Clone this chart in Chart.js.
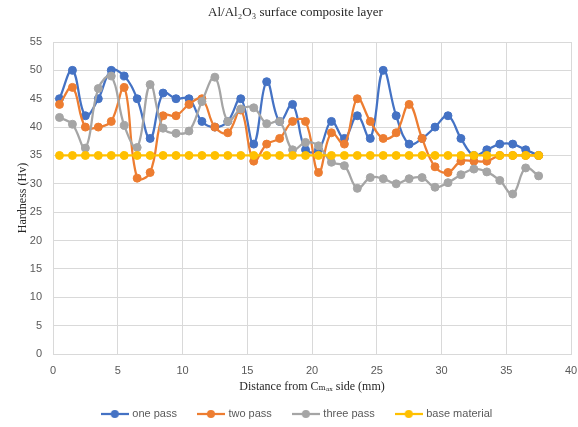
<!DOCTYPE html>
<html>
<head>
<meta charset="utf-8">
<script src="https://cdn.jsdelivr.net/npm/chart.js@4.4.1/dist/chart.umd.min.js"></script>
<style>
html,body{margin:0;padding:0;background:#ffffff;}
#wrap{width:578px;height:427px;position:relative;}
</style>
</head>
<body>
<div id="wrap"><canvas id="chart" width="578" height="427"></canvas></div>
<script>
// Distance from Cmax side (mm)
const distances = [0.5,1.5,2.5,3.5,4.5,5.5,6.5,7.5,8.5,9.5,10.5,11.5,12.5,13.5,14.5,15.5,16.5,17.5,18.5,19.5,20.5,21.5,22.5,23.5,24.5,25.5,26.5,27.5,28.5,29.5,30.5,31.5,32.5,33.5,34.5,35.5,36.5,37.5];
// Hardness (Hv)
const onePass = [45,50,42,45,50,49,45,38,46,45,45,41,40,41,45,37,48,41,44,36,36,41,38,42,38,50,42,37,38,40,42,38,35,36,37,37,36,35];
const twoPass = [44,47,40,40,41,47,31,32,42,42,44,45,40,39,43,34,37,38,41,41,32,39,37,45,41,38,39,44,38,33,32,34,34,34,35,35,35,35];
const threePass = [41.7,40.5,36.3,46.8,49,40.3,36.4,47.5,39.8,38.9,39.3,44.5,48.8,41,43.2,43.4,40.6,41,36,37.3,36.7,33.8,33.2,29.2,31.1,30.9,30,30.9,31.1,29.4,30.2,31.6,32.6,32.1,30.6,28.2,32.8,31.4];
const baseMaterial = [35,35,35,35,35,35,35,35,35,35,35,35,35,35,35,35,35,35,35,35,35,35,35,35,35,35,35,35,35,35,35,35,35,35,35,35,35,35];

const seriesNames = ['one pass','two pass','three pass','base material'];
const seriesColors = ['#4472C4','#ED7D31','#A5A5A5','#FFC000'];
const seriesValues = [onePass, twoPass, threePass, baseMaterial];

const xTicks = [0,5,10,15,20,25,30,35,40];
const yTicks = [0,5,10,15,20,25,30,35,40,45,50,55];

function toPoints(vals){ return vals.map((v,i)=>({x: distances[i], y: v})); }

function makeMarker(color){
  const c = document.createElement('canvas');
  c.width = 28; c.height = 10;
  const g = c.getContext('2d');
  g.strokeStyle = color; g.lineWidth = 2.25;
  g.beginPath(); g.moveTo(0,5); g.lineTo(28,5); g.stroke();
  g.fillStyle = color;
  g.beginPath(); g.arc(14,5,4,0,Math.PI*2); g.fill();
  return c;
}

const datasets = seriesNames.map((name,i)=>({
  label: name,
  data: toPoints(seriesValues[i]),
  borderColor: seriesColors[i],
  backgroundColor: seriesColors[i],
  pointBackgroundColor: seriesColors[i],
  pointBorderColor: seriesColors[i],
  borderWidth: 2.25,
  pointRadius: 4,
  pointBorderWidth: 1,
  tension: 0.4,
  fill: false,
  order: seriesNames.length - i
}));

const layoutTweaks = {
  id: 'layoutTweaks',
  afterInit(chart){
    const lg = chart.legend;
    if (lg) {
      const orig = lg.fit;
      lg.fit = function(){ orig.call(this); this.height = 40.5; };
    }
  },
  afterLayout(chart){
    const t = chart.titleBlock;
    if (t) { t.left += 10; t.right += 10; }
    const lg = chart.legend;
    if (lg) { lg.left += 12; lg.right += 12; }
  }
};

new Chart(document.getElementById('chart'), {
  type: 'line',
  data: { datasets },
  plugins: [layoutTweaks],
  options: {
    responsive: false,
    devicePixelRatio: 1,
    animation: false,
    layout: { padding: { left: 0, right: 7, top: 0, bottom: 0 } },
    plugins: {
      title: {
        display: true,
        text: 'Al/Al\u2082O\u2083 surface composite layer',
        color: '#262626',
        font: { family: "'Liberation Serif', 'DejaVu Serif', serif", size: 13, weight: 'normal' },
        padding: { top: 5, bottom: 21.4 }
      },
      legend: {
        display: true,
        position: 'bottom',
        labels: {
          usePointStyle: true,
          pointStyleWidth: 24,
          boxHeight: 10,
          padding: 22,
          color: '#595959',
          font: { family: "'Liberation Sans', Arial, sans-serif", size: 11 },
          generateLabels(chart){
            return chart.data.datasets.map((ds,i)=>({
              text: ds.label,
              fillStyle: ds.backgroundColor,
              strokeStyle: ds.borderColor,
              lineWidth: 0,
              pointStyle: makeMarker(ds.borderColor),
              hidden: !chart.isDatasetVisible(i),
              datasetIndex: i,
              fontColor: '#595959'
            }));
          }
        }
      },
      tooltip: { enabled: false }
    },
    scales: {
      x: {
        type: 'linear',
        min: 0, max: 40,
        afterBuildTicks(scale){ scale.ticks = xTicks.map(v=>({value:v})); },
        afterFit(scale){ scale.height = 32.5; scale.paddingLeft = 0; scale.paddingRight = 0; },
        grid: { color: '#d9d9d9', lineWidth: 1, drawTicks: false },
        border: { display: true, color: '#d9d9d9' },
        ticks: { color: '#595959', padding: 10, font: { family: "'Liberation Sans', Arial, sans-serif", size: 11 } },
        title: {
          display: true,
          text: 'Distance from C\u2098\u2090\u2093 side (mm)',
          color: '#262626',
          font: { family: "'Liberation Serif', 'DejaVu Serif', serif", size: 12, weight: 'normal' },
          padding: { top: 0, bottom: -8 }
        }
      },
      y: {
        type: 'linear',
        min: 0, max: 55,
        afterBuildTicks(scale){ scale.ticks = yTicks.map(v=>({value:v})); },
        afterFit(scale){ scale.width = 53; },
        grid: { color: '#d9d9d9', lineWidth: 1, drawTicks: false },
        border: { display: true, color: '#d9d9d9' },
        ticks: { color: '#595959', padding: 11, font: { family: "'Liberation Sans', Arial, sans-serif", size: 11 } },
        title: {
          display: true,
          text: 'Hardness (Hv)',
          color: '#262626',
          font: { family: "'Liberation Serif', 'DejaVu Serif', serif", size: 12, weight: 'normal' },
          padding: { top: 16, bottom: 0 }
        }
      }
    }
  }
});
</script>
</body>
</html>
